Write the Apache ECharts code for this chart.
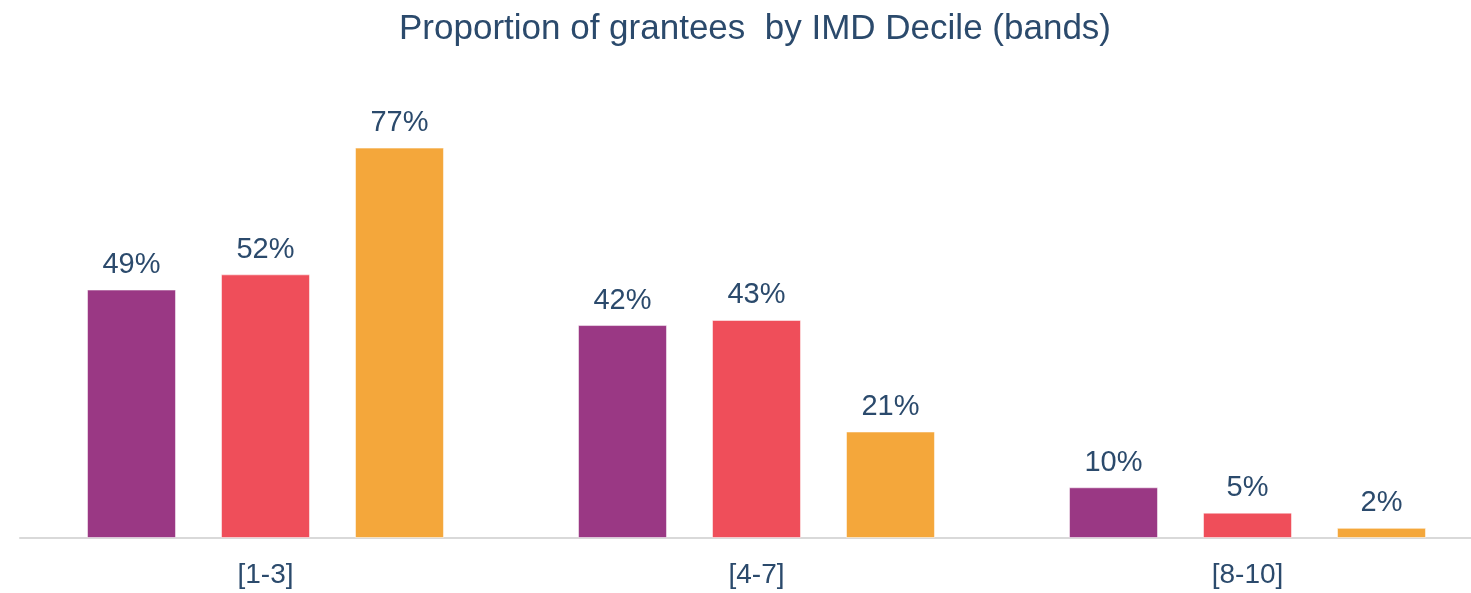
<!DOCTYPE html>
<html>
<head>
<meta charset="utf-8">
<script src="https://cdn.jsdelivr.net/npm/echarts@6/dist/echarts.min.js"></script>
<style>
html,body{margin:0;padding:0;background:#fff;overflow:hidden;}
#chart{width:1493px;height:593px;}
</style>
</head>
<body>
<div id="chart"></div>
<script>
const categories = ['[1-3]', '[4-7]', '[8-10]'];
const seriesA = [49, 42, 10];
const seriesB = [52, 43, 5];
const seriesC = [77, 21, 2];
const seriesNames = ['Series A', 'Series B', 'Series C'];
const colors = ['#9A3884', '#EF4E5A', '#F4A73B'];
const textColor = '#2B4A6C';

const chart = echarts.init(document.getElementById('chart'), null, {renderer: 'canvas'});
const mk = (name, data, color) => ({
  name: name,
  type: 'bar',
  data: data,
  barGap: '50.6%',
  barCategoryGap: '27.3%',
  itemStyle: {color: color, borderColor: 'rgba(255,255,255,0.5)', borderWidth: 1},
  label: {
    show: true,
    position: 'top',
    distance: 10,
    formatter: p => Math.round(p.value) + '%',
    color: textColor,
    fontFamily: 'Liberation Sans, Arial, sans-serif',
    fontSize: 29
  }
});
chart.setOption({
  animation: false,
  title: {
    text: 'Proportion of grantees  by IMD Decile (bands)',
    left: 399,
    top: 12,
    padding: 0,
    textStyle: {
      color: textColor,
      fontFamily: 'Liberation Sans, Arial, sans-serif',
      fontWeight: 'normal',
      fontSize: 35
    }
  },
  grid: {left: 20, right: 0, top: 31, bottom: 55, containLabel: false},
  xAxis: {
    type: 'category',
    data: categories,
    axisLine: {lineStyle: {color: '#D9D9D9', width: 2}},
    axisTick: {show: false},
    axisLabel: {
      color: textColor,
      fontFamily: 'Liberation Sans, Arial, sans-serif',
      fontSize: 28,
      margin: 23
    }
  },
  yAxis: {type: 'value', min: 0, max: 100, show: false, splitLine: {show: false}},
  series: [
    mk(seriesNames[0], seriesA, colors[0]),
    mk(seriesNames[1], seriesB, colors[1]),
    mk(seriesNames[2], seriesC, colors[2])
  ]
});
</script>
</body>
</html>
